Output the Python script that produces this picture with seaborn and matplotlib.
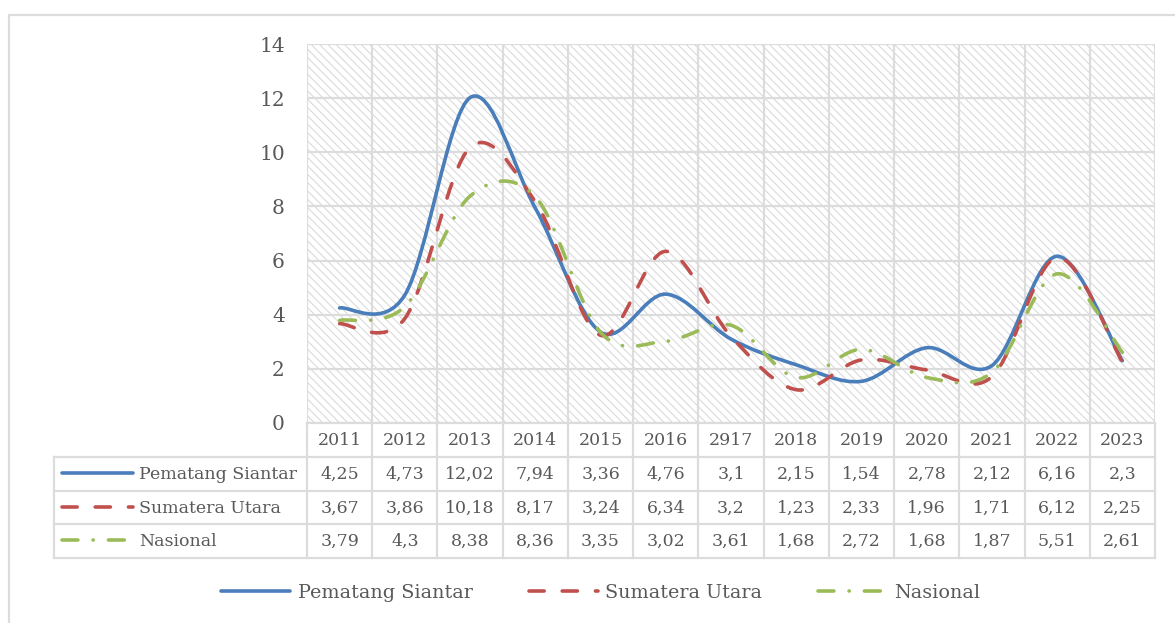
import numpy as np
import matplotlib.pyplot as plt
import seaborn as sns
from matplotlib.path import Path
from matplotlib.patches import PathPatch, Rectangle
from matplotlib.lines import Line2D

years = ['2011', '2012', '2013', '2014', '2015', '2016', '2917',
         '2018', '2019', '2020', '2021', '2022', '2023']
pematang = [4.25, 4.73, 12.02, 7.94, 3.36, 4.76, 3.1, 2.15, 1.54, 2.78, 2.12, 6.16, 2.3]
sumut = [3.67, 3.86, 10.18, 8.17, 3.24, 6.34, 3.2, 1.23, 2.33, 1.96, 1.71, 6.12, 2.25]
nasional = [3.79, 4.3, 8.38, 8.36, 3.35, 3.02, 3.61, 1.68, 2.72, 1.68, 1.87, 5.51, 2.61]
names = ['Pematang Siantar', 'Sumatera Utara', 'Nasional']
series = [pematang, sumut, nasional]

colors = ['#4a7ebb', '#c0504d', '#9bbb59']
styles = ['-', (0, (4.2, 5.0)), (0, (4.4, 4.2, 0.05, 4.2))]
LW = 2.6
TXT = '#595959'
GRID = '#dcdcdc'

sns.set_style('white')
plt.rcParams['font.family'] = ['DejaVu Serif']
plt.rcParams['hatch.linewidth'] = 0.7


def smooth_path(xs, ys):
    # excel style smoothed line: bezier segments through the data points
    pts = np.column_stack([xs, ys]).astype(float)
    n = len(pts)
    verts = [pts[0]]
    codes = [Path.MOVETO]
    for i in range(n - 1):
        p0 = pts[max(i - 1, 0)]
        p1 = pts[i]
        p2 = pts[i + 1]
        p3 = pts[min(i + 2, n - 1)]
        verts += [p1 + (p2 - p0) / 6, p2 - (p3 - p1) / 6, p2]
        codes += [Path.CURVE4] * 3
    return Path(verts, codes)


W, H = 1175, 623
fig = plt.figure(figsize=(W / 100, H / 100), dpi=100)

# outer chart border (cropped on right / bottom)
fig.add_artist(Line2D([9 / W, 1], [1 - 15 / H, 1 - 15 / H], color=GRID, lw=1.6))
fig.add_artist(Line2D([9 / W, 9 / W], [0, 1 - 15 / H], color=GRID, lw=1.6))

px_l, px_r, px_t, px_b = 307, 1155, 44, 423
ax = fig.add_axes([px_l / W, 1 - px_b / H, (px_r - px_l) / W, (px_b - px_t) / H])
x = np.arange(len(years))

ax.add_patch(Rectangle((0, 0), 1, 1, transform=ax.transAxes, facecolor='white',
                       edgecolor='#d6d6d6', hatch='\\\\\\\\', lw=0, zorder=0))
for i, (vals, c, ls) in enumerate(zip(series, colors, styles)):
    patch = PathPatch(smooth_path(x, vals), facecolor='none', edgecolor=c, lw=LW,
                      linestyle=ls, capstyle='round', joinstyle='round', zorder=3 + i)
    ax.add_patch(patch)

ax.set_xlim(-0.5, len(years) - 0.5)
ax.set_ylim(0, 14)
ax.set_yticks(range(0, 15, 2))
ax.set_xticks(np.arange(-0.5, len(years), 1))
ax.set_xticklabels([])
ax.set_axisbelow(True)
ax.grid(True, color=GRID, lw=1.6)
ax.tick_params(length=0, pad=16, labelsize=14.5, colors=TXT)
for s in ax.spines.values():
    s.set_visible(False)

# data table below the plot
cat_px = (px_r - px_l) / len(years)
xl = -0.5 - (px_l - 54) / cat_px
tax = fig.add_axes([54 / W, 1 - 558 / H, (px_r - 54) / W, (558 - px_b) / H])
tax.set_xlim(xl, len(years) - 0.5)
tax.set_ylim(4, 0)
tax.axis('off')
tk = dict(color=GRID, lw=1.6, clip_on=False, solid_capstyle='projecting')
for i in range(len(years) + 1):
    tax.plot([i - 0.5, i - 0.5], [0, 4], **tk)
tax.plot([xl, xl], [1, 4], **tk)
tax.plot([-0.5, len(years) - 0.5], [0, 0], **tk)
for r in range(1, 5):
    tax.plot([xl, len(years) - 0.5], [r, r], **tk)

for i, yr in enumerate(years):
    tax.text(i, 0.52, yr, ha='center', va='center', fontsize=12.5, color=TXT)
for r, (name, vals, c, ls) in enumerate(zip(names, series, colors, styles)):
    yc = r + 1.52
    for i, v in enumerate(vals):
        tax.text(i, yc, str(v).replace('.', ','), ha='center', va='center',
                 fontsize=12.5, color=TXT)
    tax.plot([xl + 8 / cat_px, xl + 79 / cat_px], [yc - 0.04, yc - 0.04], color=c, lw=LW,
             linestyle=ls, dash_capstyle='round', solid_capstyle='round', clip_on=False)
    tax.text(xl + 85 / cat_px, yc, name, ha='left', va='center', fontsize=12.5, color=TXT)

handles = [Line2D([], [], color=c, lw=LW, linestyle=ls, dash_capstyle='round',
                  solid_capstyle='round') for c, ls in zip(colors, styles)]
fig.legend(handles, names, loc='center', bbox_to_anchor=(601 / W, 1 - 593 / H), ncol=3,
           frameon=False, fontsize=13.8, handlelength=3.6, handletextpad=0.4,
           columnspacing=2.9, labelcolor=TXT)

fig.savefig('out.png', dpi=100)
